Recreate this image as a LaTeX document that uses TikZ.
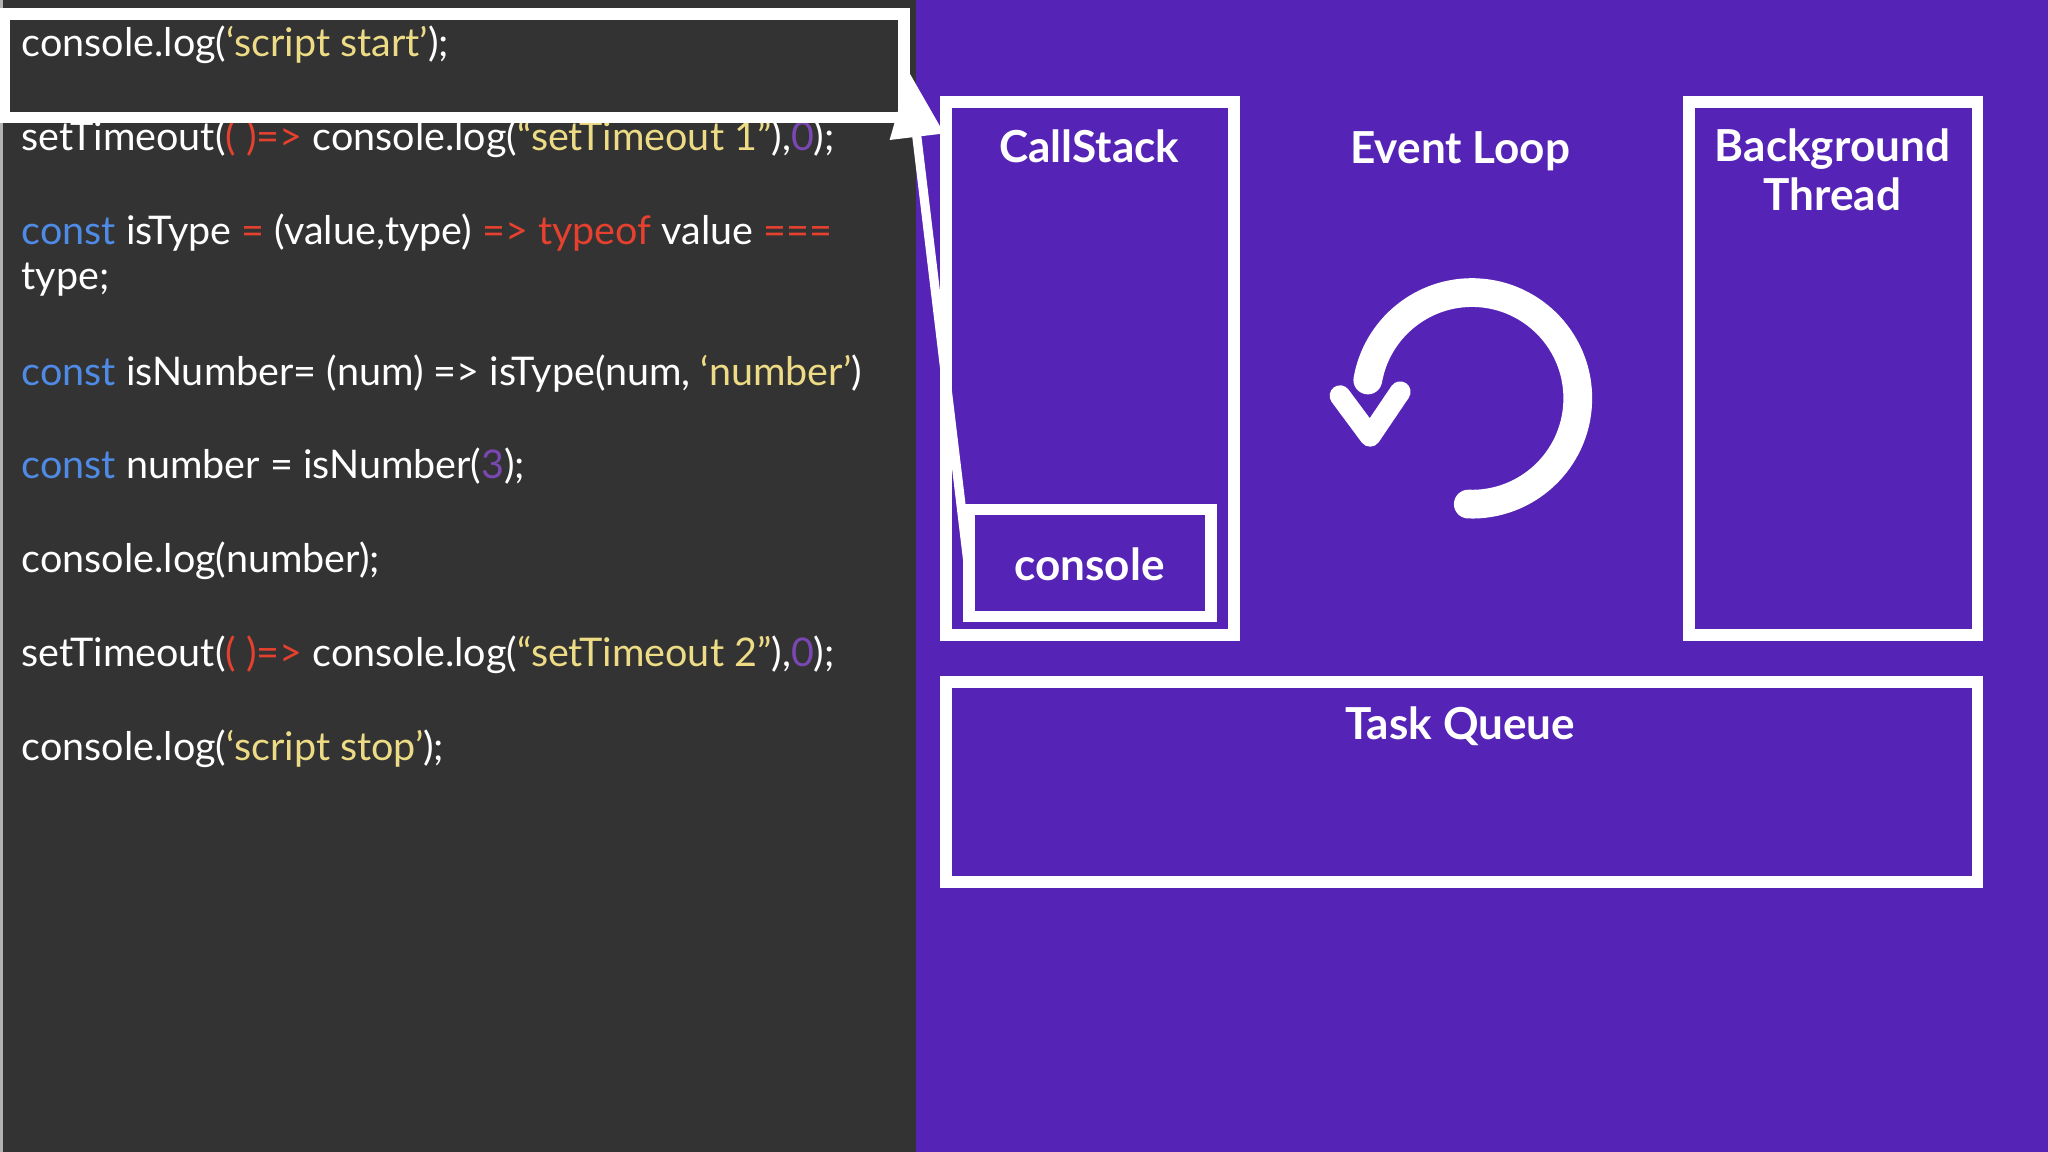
\documentclass[tikz,border=0pt]{standalone}
\usepackage{fontspec}
\setmainfont{Lato}
\usetikzlibrary{arrows.meta}
\definecolor{codebg}{HTML}{333333}
\definecolor{purp}{HTML}{5523B6}
\definecolor{cy}{HTML}{EDDC85}
\definecolor{cb}{HTML}{4F8BE6}
\definecolor{cr}{HTML}{E5412E}
\definecolor{cp}{HTML}{7A47B3}
\tikzset{
 code/.style={anchor=west,text=white,font=\fontsize{8.6}{10}\selectfont,inner sep=0pt},
 box/.style={draw=white,line width=0.9mm},
 lbl/.style={text=white,font=\bfseries\fontsize{9.6}{11.5}\selectfont,align=center}
}
\begin{document}
\begin{tikzpicture}[x=0.01cm,y=-0.01cm]
\useasboundingbox (0,0) rectangle (1568,882);
\fill[purp] (0,0) rectangle (1568,882);
\fill[codebg] (0,0) rectangle (701,882);
\draw[gray!60,line width=0.3mm] (0.5,0) -- (0.5,882);
% code
\node[code] (l1) at (16,34) {console.log(\textcolor{cy}{‘script start’});};
\node[code] (l2) at (16,106) {setTimeout(\textcolor{cr}{( )=>} console.log(\textcolor{cy}{“setTimeout 1”}),\textcolor{cp}{0});};
\node[code] (l3) at (16,178) {\textcolor{cb}{const} isType \textcolor{cr}{=} (value,type) \textcolor{cr}{=> typeof} value \textcolor{cr}{===}};
\node[code] (l4) at (16,214) {type;};
\node[code] (l5) at (16,286) {\textcolor{cb}{const} isNumber= (num) => isType(num, \textcolor{cy}{‘number’})};
\node[code] (l6) at (16,357) {\textcolor{cb}{const} number = isNumber(\textcolor{cp}{3});};
\node[code] (l7) at (16,429) {console.log(number);};
\node[code] (l8) at (16,501) {setTimeout(\textcolor{cr}{( )=>} console.log(\textcolor{cy}{“setTimeout 2”}),\textcolor{cp}{0});};
\node[code] (l9) at (16,573) {console.log(\textcolor{cy}{‘script stop’});};
% highlight
\draw[box] (3,11) rectangle (692,90);
% boxes
\draw[box] (724,78) rectangle (945,486);
\node[lbl] (cs) at (834,112) {CallStack};
\draw[box] (742,390) rectangle (927,472);
\node[lbl] (con) at (834,432) {console};
\coordinate (cstart) at (741,430);
\coordinate (cend) at (696,55);
\draw[white,line width=0.7mm,-{Triangle[width=4mm,length=5mm]}] (cstart) -- (cend);
\node[lbl] (el) at (1118,116) {Event Loop};
\draw[box] (1293,78) rectangle (1514,486);
\node[lbl] (bt) at (1403,130) {Background\\[-1pt]Thread};
\draw[box] (724,522) rectangle (1514,675);
\node[lbl] (tq) at (1118,556) {Task Queue};
% loop arrow (y axis flipped: angles clockwise visually)
\draw[white,line width=2.2mm,line cap=round] (1127,305) ++(92:81) arc[start angle=92,end angle=-170,radius=81];
\draw[white,line width=1.6mm,line cap=round,line join=round] (1026,303) -- (1049,334) -- (1072,300);
\end{tikzpicture}
\end{document}
